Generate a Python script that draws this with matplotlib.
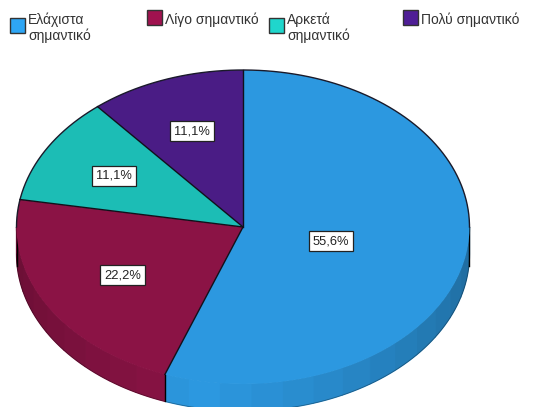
#!/usr/bin/env python3
import numpy as np
import matplotlib
matplotlib.use('Agg')
import matplotlib.pyplot as plt
from matplotlib.patches import Rectangle, Polygon
from matplotlib.transforms import Affine2D

categories = ['Ελάχιστα\nσημαντικό', 'Λίγο σημαντικό', 'Αρκετά\nσημαντικό', 'Πολύ σημαντικό']
values = [55.6, 22.2, 11.1, 11.1]
pct_labels = ['55,6%', '22,2%', '11,1%', '11,1%']
colours = ['#2C98E0', '#8B1345', '#1CBDB5', '#4A1C85']
legend_colours = ['#2EA6F5', '#A0124F', '#1FD6CC', '#4F1E96']

W, H = 550, 407
CX, CY, RX, RY = 243, 227, 226.5, 157
DEPTH = 27

plt.rcParams['font.family'] = ['Liberation Sans', 'DejaVu Sans']

fig = plt.figure(figsize=(W / 100, H / 100), dpi=100)
ax = fig.add_axes([0, 0, 1, 1])


def rim(angles):
    """Clockwise degrees from the top to points on the top ellipse."""
    t = np.radians(angles)
    return CX + RX * np.sin(t), CY - RY * np.cos(t)


# side wall, drawn facet by facet so it gets the banded shading
bounds = np.cumsum([0] + values) / sum(values) * 360
rgb = [np.array(matplotlib.colors.to_rgb(c)) for c in colours]
for i in range(len(values)):
    start = max(bounds[i], 90)
    end = min(bounds[i + 1], 270)
    if start >= end:
        continue
    edges = np.arange(start, end, 8)
    edges = np.append(edges, end)
    for a, b in zip(edges[:-1], edges[1:]):
        x, y = rim(np.linspace(a, b, 6))
        shade = 1 - 0.28 * abs((a + b) / 2 - 190) / 90
        pts = np.column_stack([np.r_[x, x[::-1]], np.r_[y, y[::-1] + DEPTH]])
        c = rgb[i] * shade
        ax.add_patch(Polygon(pts, closed=True, fc=c, ec=c, lw=0.9, joinstyle='bevel', zorder=1))

# bottom rim and the vertical edges at both sides
x, y = rim(np.linspace(90, 270, 200))
ax.plot(x, y + DEPTH, color='black', lw=0.5, alpha=0.35, zorder=2)
ax.plot([CX - RX + 0.5] * 2, [CY, CY + 39], color='black', lw=1, zorder=2)
ax.plot([CX + RX - 0.5] * 2, [CY, CY + 39], color='black', lw=1, zorder=2)

# top face
wedges, _ = ax.pie(values, colors=colours, startangle=90, counterclock=False, radius=1,
                   center=(0, 0), wedgeprops=dict(edgecolor='none', linewidth=0))
for w in wedges:
    w.set_transform(Affine2D().scale(RX, RY).scale(1, -1).translate(CX, CY) + ax.transData)
    w.set_zorder(3)

# black only on the back half of the rim and on the slice borders
x, y = rim(np.linspace(-90, 90, 200))
ax.plot(x, y, color='#1a1a2a', lw=1, zorder=4)
for b in bounds[:-1]:
    x, y = rim(b)
    ax.plot([CX, x], [CY, y], color='#10101a', lw=1, zorder=4)
    if 90 < b < 270:
        ax.plot([x, x], [y, y + DEPTH], color='black', lw=1, zorder=2)

# percent labels
label_pos = [(331, 241), (122.5, 275), (114, 176), (192, 131)]
for (x, y), s in zip(label_pos, pct_labels):
    ax.text(x, y, s, ha='center', va='center', fontsize=9.3, color='#222222', zorder=5,
            bbox=dict(boxstyle='square,pad=0.28', fc='white', ec='#222222', lw=0.9))

# legend
leg_box = [(10, 18), (147, 10), (269, 18), (403, 10)]
leg_txt = [(28, 12.5), (165, 12.5), (287, 12.5), (421, 12.5)]
for (bx, by), (tx, ty), c, s in zip(leg_box, leg_txt, legend_colours, categories):
    ax.add_patch(Rectangle((bx, by), 15, 15, fc=c, ec='#333333', lw=1, zorder=5))
    ax.text(tx, ty, s, ha='left', va='top', fontsize=10, color='#333333', linespacing=1.12, zorder=5)

ax.set_aspect('auto')
ax.set_xlim(0, W)
ax.set_ylim(H, 0)
ax.axis('off')
fig.savefig('out.png', dpi=100)
